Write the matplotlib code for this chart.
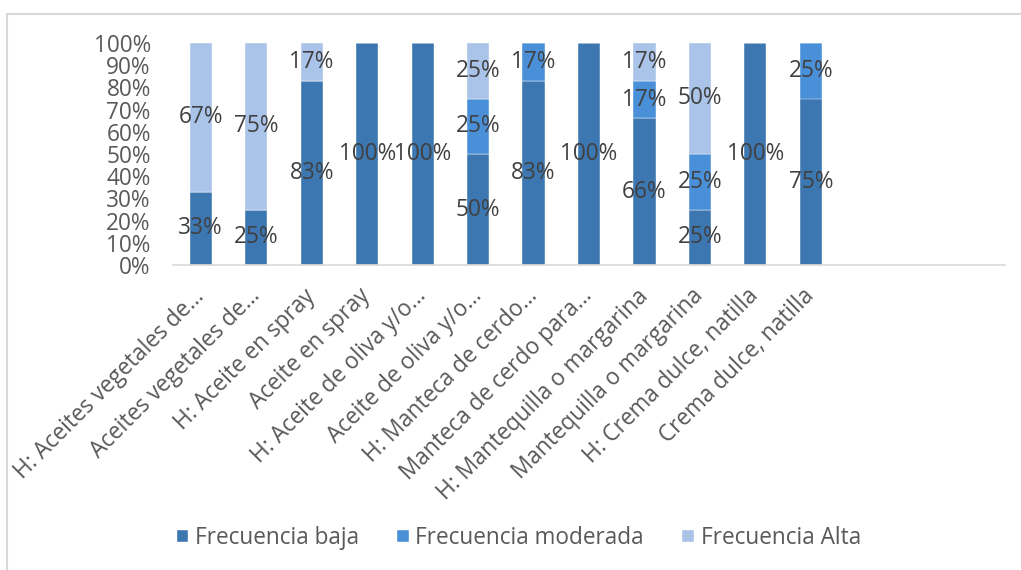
import matplotlib.pyplot as plt
import numpy as np
from matplotlib.patches import Rectangle

plt.rcParams["font.family"] = ["Open Sans", "DejaVu Sans"]

categories = [
    "H: Aceites vegetales de…", "Aceites vegetales de…", "H: Aceite en spray",
    "Aceite en spray", "H: Aceite de oliva y/o…", "Aceite de oliva y/o…",
    "H: Manteca de cerdo…", "Manteca de cerdo para…", "H: Mantequilla o margarina",
    "Mantequilla o margarina", "H: Crema dulce, natilla", "Crema dulce, natilla",
    "", "", "",
]
baja = [33, 25, 83, 100, 100, 50, 83, 100, 66, 25, 100, 75, 0, 0, 0]
moderada = [0, 0, 0, 0, 0, 25, 17, 0, 17, 25, 0, 25, 0, 0, 0]
alta = [67, 75, 17, 0, 0, 25, 0, 0, 17, 50, 0, 0, 0, 0, 0]
series = [("Frecuencia baja", baja, "#3C77B1"),
          ("Frecuencia moderada", moderada, "#4A90D8"),
          ("Frecuencia Alta", alta, "#AAC3E9")]

FS = 16.3

fig = plt.figure(figsize=(10.21, 5.70), dpi=100)
ax = fig.add_axes([173 / 1021, 1 - 265 / 570, 832 / 1021, 222 / 570])

# light chart-area frame (only top and left edges visible in the crop)
fig.patches.append(Rectangle((7 / 1021, -0.2), 1.2, 1.2 - 14 / 570,
                             transform=fig.transFigure, fill=False,
                             edgecolor="#D9D9D9", lw=1.5))

x = np.arange(len(categories))
bottom = np.zeros(len(categories))
for name, vals, color in series:
    vals = np.array(vals, dtype=float)
    ax.bar(x, vals, 0.4, bottom=bottom, color=color, label=name,
           edgecolor="white", linewidth=0.3)
    for xi, b, v in zip(x, bottom, vals):
        if v > 0:
            ax.text(xi, b + v / 2, f"{int(v)}%", ha="center", va="center",
                    fontsize=FS, color="#404040")
    bottom += vals

ax.set_xlim(-0.5, len(categories) - 0.5)
ax.set_ylim(0, 100)
ax.set_yticks(np.arange(0, 101, 10), [f"{v}%" for v in range(0, 101, 10)])
ax.tick_params(axis="y", length=0, labelsize=FS, labelcolor="#595959", pad=16)
ax.set_xticks(x)
ax.set_xticklabels(categories, rotation=45, ha="right", va="center",
                   rotation_mode="anchor", fontsize=FS, color="#595959")
ax.tick_params(axis="x", length=0, pad=20)
for s in ["top", "right", "left"]:
    ax.spines[s].set_visible(False)
ax.spines["bottom"].set_color("#D9D9D9")
ax.spines["bottom"].set_linewidth(1.2)

leg = fig.legend(loc="center", bbox_to_anchor=(0.508, 1 - 538 / 570), ncol=3,
                 frameon=False, fontsize=FS, handlelength=0.5, handleheight=0.5,
                 handletextpad=0.3, columnspacing=1.7)
for t in leg.get_texts():
    t.set_color("#595959")

fig.savefig("out.png", dpi=100)
